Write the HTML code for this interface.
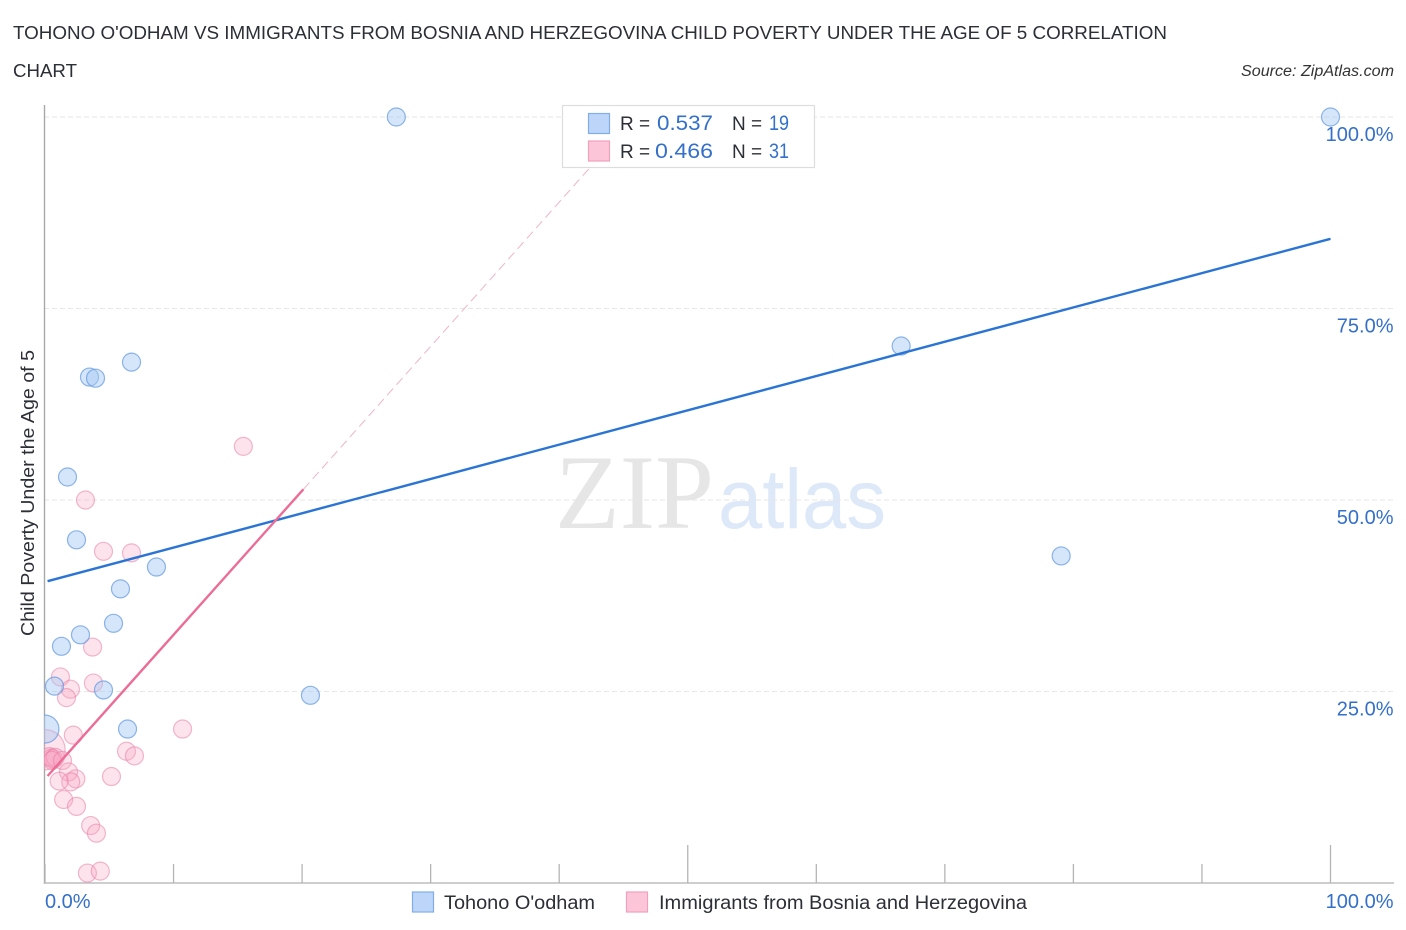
<!DOCTYPE html>
<html lang="en">
<head>
<meta charset="utf-8">
<title>Tohono O'odham vs Immigrants from Bosnia and Herzegovina Child Poverty Correlation Chart</title>
<style>
  html, body { margin: 0; padding: 0; background: #fff; }
  svg { display: block; font-family: "Liberation Sans", "DejaVu Sans", sans-serif; }
</style>
</head>
<body>
<svg id="chart" xmlns="http://www.w3.org/2000/svg" width="1406" height="930" viewBox="0 0 1406 930">
  <defs>
    <clipPath id="plot-clip"><rect x="44" y="100" width="1352" height="783"></rect></clipPath>
  </defs>
  <rect x="0" y="0" width="1406" height="930" fill="#ffffff"></rect>

  <text x="13" y="39" font-size="18.5" fill="#2b2f36" textLength="1154" lengthAdjust="spacingAndGlyphs">TOHONO O'ODHAM VS IMMIGRANTS FROM BOSNIA AND HERZEGOVINA CHILD POVERTY UNDER THE AGE OF 5 CORRELATION</text>
  <text x="13" y="77" font-size="18.5" fill="#2b2f36" textLength="64" lengthAdjust="spacingAndGlyphs">CHART</text>
  <text x="1241" y="76" font-size="15.5" font-style="italic" fill="#333333" textLength="153" lengthAdjust="spacingAndGlyphs">Source: ZipAtlas.com</text>

  <g>
    <text x="555" y="528" font-family="'Liberation Serif', serif" font-size="106" fill="#e6e6e6" textLength="159" lengthAdjust="spacingAndGlyphs">ZIP</text>
    <text x="718" y="528" font-size="84" fill="#dde8f8" textLength="168" lengthAdjust="spacingAndGlyphs">atlas</text>
  </g>

  <g id="grid"></g>
  <g id="axes"></g>
  <g id="marks" clip-path="url(#plot-clip)"></g>
  <g id="lines"></g>

  <text transform="translate(34,636) rotate(-90)" x="0" y="0" font-size="18" fill="#2b2f36" textLength="286" lengthAdjust="spacingAndGlyphs">Child Poverty Under the Age of 5</text>

  <g>
    <rect x="562.5" y="105.5" width="252" height="62" fill="#ffffff" fill-opacity="0.92" stroke="#dddddd" stroke-width="1.2"></rect>
    <rect x="588.5" y="113.5" width="21" height="20" fill="#bcd5f9" stroke="#82aee8" stroke-width="1.2"></rect>
    <rect x="588.5" y="141" width="21" height="20" fill="#fdc6d8" stroke="#f0a0bc" stroke-width="1.2"></rect>
    <text x="620" y="130" font-size="19" fill="#2b2f36">R =</text>
    <text x="657" y="130" font-size="21" fill="#3470c9" textLength="56" lengthAdjust="spacingAndGlyphs">0.537</text>
    <text x="732" y="130" font-size="19" fill="#2b2f36">N =</text>
    <text x="769" y="130" font-size="21" fill="#3470c9" textLength="20" lengthAdjust="spacingAndGlyphs">19</text>
    <text x="620" y="158" font-size="19" fill="#2b2f36">R =</text>
    <text x="655" y="158" font-size="21" fill="#3470c9" textLength="58" lengthAdjust="spacingAndGlyphs">0.466</text>
    <text x="732" y="158" font-size="19" fill="#2b2f36">N =</text>
    <text x="769" y="158" font-size="21" fill="#3470c9" textLength="20" lengthAdjust="spacingAndGlyphs">31</text>
  </g>

  <g>
    <rect x="412.5" y="892" width="21" height="20" fill="#bcd5f9" stroke="#82aee8" stroke-width="1.2"></rect>
    <text x="444" y="909" font-size="19" fill="#2b2f36" textLength="151" lengthAdjust="spacingAndGlyphs">Tohono O'odham</text>
    <rect x="626.5" y="892" width="21" height="20" fill="#fdc6d8" stroke="#f0a0bc" stroke-width="1.2"></rect>
    <text x="659" y="909" font-size="19" fill="#2b2f36" textLength="368" lengthAdjust="spacingAndGlyphs">Immigrants from Bosnia and Herzegovina</text>
  </g>
</svg>

<script>
const yTickValues = [25, 50, 75, 100];
const yTickLabels = ['25.0%', '50.0%', '75.0%', '100.0%'];
const xTickValues = [0, 10, 20, 30, 40, 50, 60, 70, 80, 90, 100];
const xMajorTicks = [50, 100];
const xEndValues = [0, 100];
const xEndLabels = ['0.0%', '100.0%'];

const blueX = [27.33, 100, 66.6, 79.05, 6.73, 3.46, 3.93, 1.75, 2.45, 8.67, 5.87, 5.33, 2.76, 1.28, 0.74, 4.55, 20.65, 6.42, 0];
const blueY = [100, 100, 70.1, 42.7, 68, 66.05, 65.9, 53, 44.8, 41.25, 38.4, 33.9, 32.4, 30.9, 25.7, 25.2, 24.5, 20.1, 20.1];
const blueWeight = [1, 1, 1, 1, 1, 1, 1, 1, 1, 1, 1, 1, 1, 1, 1, 1, 1, 1, 2.4];

const pinkX = [15.43, 3.15, 4.55, 6.73, 3.7, 1.2, 3.77, 1.98, 1.67, 10.7, 2.2, 6.34, 6.96, 0, 0.35, 0.5, 0.65, 0.8, 0.55, 1.36, 1.83, 2.4, 2.0, 1.1, 5.17, 1.45, 2.45, 3.55, 4.0, 3.3, 4.3];
const pinkY = [57, 50, 43.3, 43.1, 30.8, 26.9, 26.1, 25.3, 24.2, 20.1, 19.3, 17.2, 16.6, 17.4, 16.5, 16.3, 16.2, 16.4, 16.0, 16.0, 14.5, 13.6, 13.2, 13.3, 13.9, 10.9, 10.0, 7.5, 6.5, 1.3, 1.55];
const pinkWeight = [1, 1, 1, 1, 1, 1, 1, 1, 1, 1, 1, 1, 1, 5, 1, 1, 1, 1, 1, 1, 1, 1, 1, 1, 1, 1, 1, 1, 1, 1, 1];

const blueTrendX = [0.2, 100];
const blueTrendY = [39.4, 84.1];
const pinkTrendX = [0.2, 20.1];
const pinkTrendY = [13.97, 51.4];
const pinkExtensionX = [20.1, 45.9];
const pinkExtensionY = [51.4, 100];

function xScale(v) { return 45 + v * 12.855; }
function yScale(v) { return 883 - v * 7.66; }
function radiusScale(w) { return 9 * Math.sqrt(w); }

const NS = 'http://www.w3.org/2000/svg';
function make(tag, parentId, attrs) {
  const el = document.createElementNS(NS, tag);
  for (const k in attrs) el.setAttribute(k, attrs[k]);
  document.getElementById(parentId).appendChild(el);
  return el;
}

yTickValues.forEach(function (v, i) {
  const grid = make('line', 'grid', { x1: 44, x2: 1394, y1: yScale(v), y2: yScale(v), stroke: '#e6e6e6', 'stroke-width': 1, 'stroke-dasharray': '5 3' });
  
  
  const label = make('text', 'axes', { x: 1393.5, y: yScale(v) + 24, 'text-anchor': 'end', 'font-size': 20, fill: '#3470c9' });
  label.textContent = yTickLabels[i];
  
  
});

const yAxis = make('line', 'axes', { x1: 44.5, x2: 44.5, y1: 105, y2: 884, stroke: '#a8a8a8', 'stroke-width': 1.4 });


const xAxis = make('line', 'axes', { x1: 44, x2: 1394, y1: 883, y2: 883, stroke: '#bdbdbd', 'stroke-width': 1.6 });



xTickValues.forEach(function (v) {
  const top = xMajorTicks.indexOf(v) >= 0 ? 845 : 864;
  const tick = make('line', 'axes', { x1: xScale(v), x2: xScale(v), y1: top, y2: 883, stroke: '#b5b5b5', 'stroke-width': 1.3 });
  
  
});

xEndValues.forEach(function (v, i) {
  const label = make('text', 'axes', {
    x: i === 0 ? xScale(v) : 1393.5,
    y: 908,
    'text-anchor': i === 0 ? 'start' : 'end',
    'font-size': 20,
    fill: '#3470c9'
  });
  label.textContent = xEndLabels[i];
  
  
});

pinkX.forEach(function (x, i) {
  const dot = make('circle', 'marks', { cx: xScale(x), cy: yScale(pinkY[i]), r: radiusScale(pinkWeight[i]), fill: '#f9a8c4', 'fill-opacity': 0.32, stroke: '#e77fa5', 'stroke-opacity': 0.55, 'stroke-width': 1.2 });
  
  
});

blueX.forEach(function (x, i) {
  const dot = make('circle', 'marks', { cx: xScale(x), cy: yScale(blueY[i]), r: radiusScale(blueWeight[i]), fill: '#a5c8f5', 'fill-opacity': 0.45, stroke: '#5f97e0', 'stroke-opacity': 0.7, 'stroke-width': 1.2 });
  
  
});

const pinkExt = make('line', 'lines', { x1: xScale(pinkExtensionX[0]), y1: yScale(pinkExtensionY[0]), x2: xScale(pinkExtensionX[1]), y2: yScale(pinkExtensionY[1]), stroke: '#eeb4c8', 'stroke-width': 1, 'stroke-dasharray': '9 5' });



const blueTrend = make('line', 'lines', { x1: xScale(blueTrendX[0]), y1: yScale(blueTrendY[0]), x2: xScale(blueTrendX[1]), y2: yScale(blueTrendY[1]), stroke: '#2a74d4', 'stroke-width': 2.4 });



const pinkTrend = make('line', 'lines', { x1: xScale(pinkTrendX[0]), y1: yScale(pinkTrendY[0]), x2: xScale(pinkTrendX[1]), y2: yScale(pinkTrendY[1]), stroke: '#ec6c96', 'stroke-width': 2.4 });


</script>
</body>
</html>
